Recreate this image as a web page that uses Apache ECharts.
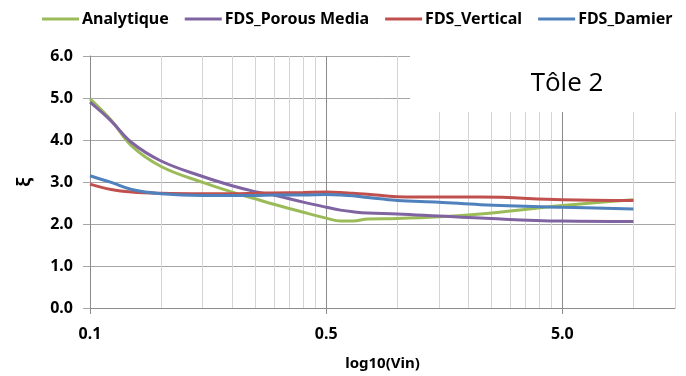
<!DOCTYPE html>
<html>
<head>
<meta charset="utf-8">
<script src="https://cdn.jsdelivr.net/npm/echarts@6/dist/echarts.min.js"></script>
<style>
html, body { margin: 0; padding: 0; background: #fff; }
#main { width: 686px; height: 376px; }
</style>
</head>
<body>
<div id="main"></div>
<script>
// Vin values (log axis)
var vin = [0.1, 0.123, 0.15, 0.2, 0.3, 0.4, 0.5, 0.6, 0.8, 1.0, 1.15, 1.3, 1.5, 2.0, 3.0, 4.5, 10, 20];

var analytique = [4.98, 4.47, 3.86, 3.37, 2.99, 2.76, 2.60, 2.47, 2.28, 2.14, 2.07, 2.07, 2.12, 2.13, 2.17, 2.24, 2.44, 2.58];
var porousMedia = [4.90, 4.45, 3.94, 3.50, 3.13, 2.91, 2.77, 2.69, 2.52, 2.40, 2.33, 2.29, 2.26, 2.24, 2.19, 2.14, 2.07, 2.06];
var vertical = [2.95, 2.82, 2.76, 2.73, 2.72, 2.72, 2.73, 2.74, 2.75, 2.76, 2.75, 2.73, 2.71, 2.65, 2.64, 2.64, 2.58, 2.56];
var damier = [3.15, 2.99, 2.82, 2.72, 2.68, 2.68, 2.68, 2.69, 2.69, 2.70, 2.69, 2.67, 2.63, 2.56, 2.52, 2.46, 2.40, 2.36];

var seriesNames = ['Analytique', 'FDS_Porous Media', 'FDS_Vertical', 'FDS_Damier'];
var seriesColors = ['#9BBB59', '#8064A2', '#C0504D', '#4F81BD'];

// labels as printed on the original x axis, at the decades 0.1, 1, 10
var xMajor = [0.1, 1, 10];
var xMajorLabels = ['0.1', '0.5', '5.0'];
var xMinor = [0.2, 0.3, 0.4, 0.5, 0.6, 0.7, 0.8, 0.9, 2, 3, 4, 5, 6, 7, 8, 9, 20, 30];

function pairs(xs, ys) {
    var out = [];
    for (var i = 0; i < xs.length; i++) out.push([xs[i], ys[i]]);
    return out;
}

var myChart = echarts.init(document.getElementById('main'));

var gridLines = [];
xMinor.forEach(function (v) {
    gridLines.push({ xAxis: v, lineStyle: { color: '#d4d4d4', width: 1, type: 'solid' } });
});
xMajor.forEach(function (v) {
    gridLines.push({ xAxis: v, lineStyle: { color: '#8c8c8c', width: 1, type: 'solid' } });
});

var allData = [analytique, porousMedia, vertical, damier];
var series = [{
    name: 'grid',
    type: 'line',
    data: [],
    z: 0,
    silent: true,
    markLine: {
        silent: true,
        z: 0,
        symbol: ['none', 'none'],
        label: { show: false },
        animation: false,
        data: gridLines
    }
}];
for (var k = 0; k < seriesNames.length; k++) {
    series.push({
        name: seriesNames[k],
        type: 'line',
        smooth: 0.4,
        symbol: 'none',
        z: 3,
        lineStyle: { width: 3, color: seriesColors[k] },
        itemStyle: { color: seriesColors[k] },
        data: pairs(vin, allData[k])
    });
}

option = {
    backgroundColor: '#ffffff',
    animation: false,
    textStyle: { fontFamily: 'Noto Sans' },
    title: {
        text: 'Tôle 2',
        left: 562,
        top: 66,
        textAlign: 'center',
        z: 10,
        textStyle: { fontFamily: 'Open Sans', fontSize: 26, fontWeight: 'normal', color: '#000' }
    },
    legend: {
        data: seriesNames,
        left: 37,
        top: 6,
        icon: 'rect',
        itemWidth: 37,
        itemHeight: 3,
        itemGap: 16,
        textStyle: { fontFamily: 'Noto Sans', fontWeight: 'bold', fontSize: 16, color: '#000', padding: [0, 0, 0, -2] }
    },
    grid: { left: 90, right: 11, top: 56, bottom: 66, containLabel: false },
    graphic: [{
        type: 'rect',
        z: 1,
        shape: { x: 410, y: 40, width: 276, height: 72 },
        style: { fill: '#ffffff' },
        silent: true
    }],
    xAxis: {
        type: 'log',
        logBase: 10,
        min: 0.1,
        max: 30,
        name: 'log10(Vin)',
        nameLocation: 'middle',
        nameGap: 48,
        nameTextStyle: { fontFamily: 'Noto Sans', fontWeight: 'bold', fontSize: 15, color: '#000' },
        axisLine: { show: true, lineStyle: { color: '#8c8c8c' } },
        axisTick: { show: true, length: 6, customValues: xMajor, lineStyle: { color: '#8c8c8c' } },
        splitLine: { show: false },
        minorTick: { show: false },
        axisLabel: {
            customValues: xMajor,
            margin: 18,
            fontFamily: 'Noto Sans',
            fontWeight: 'bold',
            fontSize: 16,
            color: '#000',
            formatter: function (v) {
                for (var i = 0; i < xMajor.length; i++) {
                    if (Math.abs(v - xMajor[i]) < 1e-6 * xMajor[i]) return xMajorLabels[i];
                }
                return '';
            }
        }
    },
    yAxis: {
        type: 'value',
        min: 0,
        max: 6,
        interval: 1,
        name: 'ξ',
        nameLocation: 'middle',
        nameRotate: 90,
        nameGap: 56,
        nameTextStyle: { fontFamily: 'Noto Sans', fontWeight: 'bold', fontSize: 18, color: '#000' },
        axisLine: { show: true, lineStyle: { color: '#8c8c8c' } },
        axisTick: { show: true, length: 7, lineStyle: { color: '#a6a6a6' } },
        splitLine: { show: true, lineStyle: { color: '#a6a6a6' } },
        axisLabel: {
            margin: 17,
            fontFamily: 'Noto Sans',
            fontWeight: 'bold',
            fontSize: 16,
            color: '#000',
            formatter: function (v) { return v.toFixed(1); }
        }
    },
    series: series
};
myChart.setOption(option);
</script>
</body>
</html>
